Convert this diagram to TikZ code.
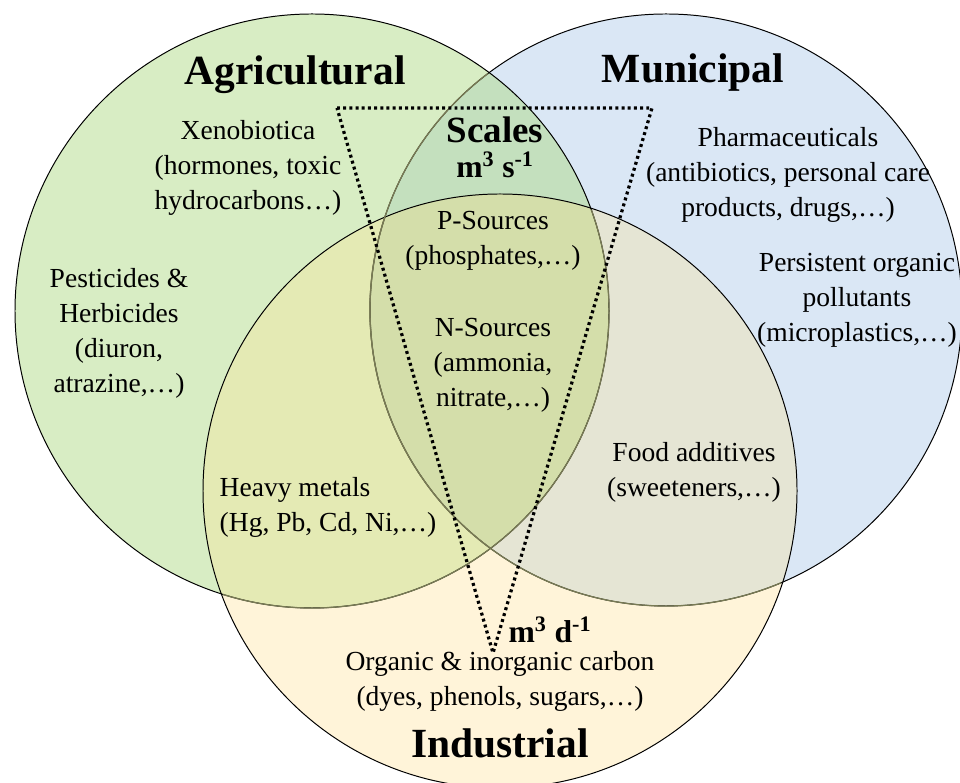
\documentclass[tikz,border=0pt]{standalone}
\usepackage{fontspec}
\setmainfont{Liberation Serif}
\usepackage{xcolor}

\definecolor{agri}{RGB}{216,237,196}
\definecolor{muni}{RGB}{218,231,245}
\definecolor{indu}{RGB}{255,244,217}
\definecolor{agrimuni}{RGB}{196,224,190}
\definecolor{agriindu}{RGB}{228,234,180}
\definecolor{muniindu}{RGB}{229,229,212}
\definecolor{allthree}{RGB}{212,222,170}
\definecolor{fadedrim}{RGB}{120,122,84}

\tikzset{
	rim/.style={draw=black, line width=0.7pt},
	softrim/.style={draw=fadedrim, line width=0.9pt},
	body/.style={align=center, inner sep=1pt, font=\fontsize{19.6}{24.9}\selectfont},
	title/.style={font=\fontsize{29.5}{32}\selectfont\bfseries},
	unit/.style={inner sep=0pt, font=\fontsize{22.5}{24}\selectfont\bfseries},
	scaleline/.style={line width=2.3pt, dash pattern=on 2.1pt off 2.3pt}
}

\begin{document}
\begin{tikzpicture}
	\useasboundingbox (0,0) rectangle (24,19.55);
	
	% the three sets
	\fill[muni] (16.65,11.8) circle (7.4);
	\fill[agri] (7.8,11.775) circle (7.425);
	\fill[indu] (12.5,7.275) circle (7.425);
	
	\begin{scope}
		\clip (7.8,11.775) circle (7.425);
		\fill[agrimuni] (16.65,11.8) circle (7.4);
		\fill[agriindu] (12.5,7.275) circle (7.425);
	\end{scope}
	\begin{scope}
		\clip (16.65,11.8) circle (7.4);
		\fill[muniindu] (12.5,7.275) circle (7.425);
		\clip (7.8,11.775) circle (7.425);
		\fill[allthree] (12.5,7.275) circle (7.425);
	\end{scope}
	
	\draw[rim] (16.65,11.8) circle (7.4);
	\draw[rim] (7.8,11.775) circle (7.425);
	\draw[rim] (12.5,7.275) circle (7.425);
	
	\begin{scope}
		\clip (7.8,11.775) circle (7.39);
		\draw[softrim] (16.65,11.8) circle (7.4);
	\end{scope}
	\begin{scope}
		\clip (12.5,7.275) circle (7.39);
		\draw[softrim] (7.8,11.775) circle (7.425);
		\draw[softrim] (16.65,11.8) circle (7.4);
	\end{scope}
	
	% scales
	\coordinate (tl) at (8.425,16.85);
	\coordinate (tr) at (16.3,16.85);
	\coordinate (apex) at (12.325,3.225);
	\draw[scaleline] (tl) -- (tr) -- (apex) -- cycle;
	
	\node[title] (agricultural) at (7.375,17.675) {Agricultural};
	\node[title] (municipal) at (17.325,17.725) {Municipal};
	\node[title] (industrial) at (12.5,0.975) {Industrial};
	\node[font=\fontsize{26.3}{28}\selectfont\bfseries] (scales) at (12.375,16.3) {Scales};
	\node[unit] (persec) at (12.375,15.425) {m\textsuperscript{3} s\textsuperscript{-1}};
	\node[unit] (perday) at (13.75,3.8) {m\textsuperscript{3} d\textsuperscript{-1}};
	
	\node[body] (xeno) at (6.2,15.35) {Xenobiotica\\(hormones, toxic\\hydrocarbons\dots)};
	\node[body] (pest) at (2.975,11.225) {Pesticides \&\\Herbicides\\(diuron,\\atrazine,\dots)};
	\node[body] (psrc) at (12.325,13.5375) {P-Sources\\(phosphates,\dots)};
	\node[body] (nsrc) at (12.325,10.425) {N-Sources\\(ammonia,\\nitrate,\dots)};
	\node[body] (pharma) at (19.7,15.175) {Pharmaceuticals\\(antibiotics, personal care\\products, drugs,\dots)};
	\node[body] (pop) at (21.425,12.05) {Persistent organic\\pollutants\\(microplastics,\dots)};
	\node[body] (food) at (17.35,7.74) {Food additives\\(sweeteners,\dots)};
	\node[body, align=left, anchor=west] (metals) at (5.45,6.86) {Heavy metals\\(Hg, Pb, Cd, Ni,\dots)};
	\node[body] (carbon) at (12.5,2.52) {Organic \& inorganic carbon\\(dyes, phenols, sugars,\dots)};
	 
\end{tikzpicture}
\end{document}
